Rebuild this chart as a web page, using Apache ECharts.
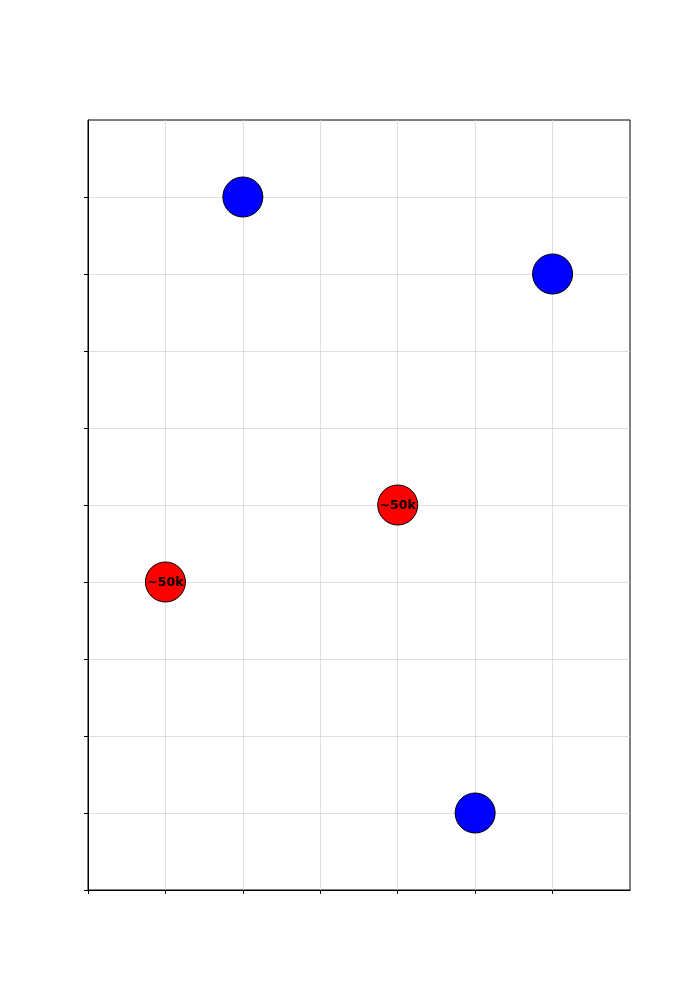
<!DOCTYPE html>
<html>
<head>
<meta charset="utf-8">
<script src="https://cdn.jsdelivr.net/npm/echarts@6/dist/echarts.min.js"></script>
<style>html,body{margin:0;padding:0;background:#fff}#c{width:700px;height:1000px}</style>
</head>
<body>
<div id="c"></div>
<script>
const blueX = [2, 6, 5];
const blueY = [9, 8, 1];
const redX = [1, 4];
const redY = [4, 5];
const redLabels = ['~50k', '~50k'];
const xTicks = [0, 1, 2, 3, 4, 5, 6];
const yTicks = [0, 1, 2, 3, 4, 5, 6, 7, 8, 9];

const chart = echarts.init(document.getElementById('c'), null, {renderer: 'canvas'});
chart.setOption({
  animation: false,
  backgroundColor: '#fff',
  grid: {left: 88, right: 70, top: 120, bottom: 110, show: true, borderColor: '#000', borderWidth: 1, backgroundColor: 'transparent'},
  xAxis: {
    type: 'value', min: 0, max: 7, interval: 1,
    axisLine: {show: true, onZero: false, lineStyle: {color: '#000', width: 1}},
    axisTick: {show: true, length: 4, inside: false, customValues: xTicks, lineStyle: {color: '#000'}},
    axisLabel: {show: false},
    splitLine: {show: true, lineStyle: {color: '#d6d6d6', width: 0.8}}
  },
  yAxis: {
    type: 'value', min: 0, max: 10, interval: 1,
    axisLine: {show: true, onZero: false, lineStyle: {color: '#000', width: 1}},
    axisTick: {show: true, length: 4, inside: false, customValues: yTicks, lineStyle: {color: '#000'}},
    axisLabel: {show: false},
    splitLine: {show: true, lineStyle: {color: '#d6d6d6', width: 0.8}}
  },
  series: [
    {
      type: 'scatter', symbol: 'circle', symbolSize: 40,
      data: blueX.map((x, i) => [x, blueY[i]]),
      itemStyle: {color: '#0000ff', borderColor: '#000', borderWidth: 1, opacity: 1}
    },
    {
      type: 'scatter', symbol: 'circle', symbolSize: 40,
      data: redX.map((x, i) => ({value: [x, redY[i]], label: {formatter: redLabels[i]}})),
      itemStyle: {color: '#ff0000', borderColor: '#000', borderWidth: 1, opacity: 1},
      label: {show: true, position: 'inside', color: '#000', fontWeight: 'bold', fontSize: 12.5, fontFamily: 'DejaVu Sans', offset: [0, 1]}
    }
  ]
});
</script>
</body>
</html>
